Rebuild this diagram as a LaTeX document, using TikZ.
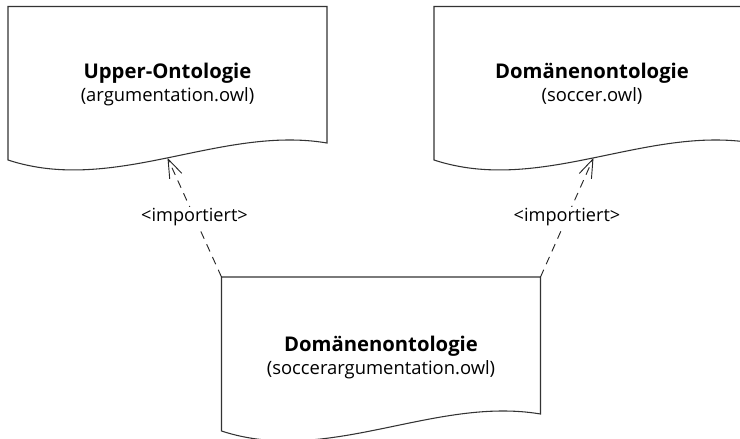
\documentclass[tikz,border=0pt]{standalone}
\usepackage{fontspec}
\setmainfont{Open Sans}
\usetikzlibrary{arrows.meta}
\tikzset{
  docline/.style={draw=black!80, line width=0.8pt, line join=miter, fill=white},
  doctitle/.style={font=\bfseries\fontsize{15.2}{18}\selectfont, anchor=base, inner sep=0pt},
  docfile/.style={font=\fontsize{13.8}{16}\selectfont, anchor=base, inner sep=0pt},
  imports/.style={draw=black!85, line width=0.7pt, dash pattern=on 6pt off 4.5pt,
    -{Straight Barb[length=14pt,width=10pt,line width=0.7pt]}},
  stereo/.style={fill=white, font=\fontsize{13.6}{16}\selectfont, inner sep=1pt}
}
% Document outline with a wavy lower edge: name, left x, top y, height of left side
\newcommand\docoutline[4]{%
  \coordinate (#1-nw) at (#2,#3);
  \coordinate (#1-ne) at ({#2+319},#3);
  \draw[docline] ({#2},{#3+#4}) -- (#1-nw) -- (#1-ne) -- ({#2+319},{#3+#4-17})
    .. controls ({#2+212.7},{#3+#4-35}) and ({#2+106.3},{#3+#4+35}) .. ({#2},{#3+#4})
    coordinate[pos=0.5] (#1-tip) -- cycle;
}
\begin{document}
\begin{tikzpicture}[x=0.75pt, y=-0.75pt]
  \useasboundingbox (0,0) rectangle (740,439);
  \clip (0,0) rectangle (740,439);

  % upper ontology
  \docoutline{upper}{8}{6.5}{153.5}
  \node[doctitle] (upper-title) at (167.5,78) {Upper-Ontologie};
  \node[docfile] (upper-file) at (167.5,101.5) {(argumentation.owl)};

  % domain ontology
  \docoutline{domain}{434}{6.5}{153.5}
  \node[doctitle] (domain-title) at (592,78) {Domänenontologie};
  \node[docfile] (domain-file) at (592,101.5) {(soccer.owl)};

  % combined domain ontology
  \docoutline{combined}{221.5}{277}{154}
  \node[doctitle] (combined-title) at (381,351) {Domänenontologie};
  \node[docfile] (combined-file) at (381,374) {(soccerargumentation.owl)};

  % import dependencies
  \draw[imports] (combined-nw) -- node[stereo] (imp-left) {<importiert>} (upper-tip);
  \draw[imports] (combined-ne) -- node[stereo] (imp-right) {<importiert>} (domain-tip);
\end{tikzpicture}
\end{document}
